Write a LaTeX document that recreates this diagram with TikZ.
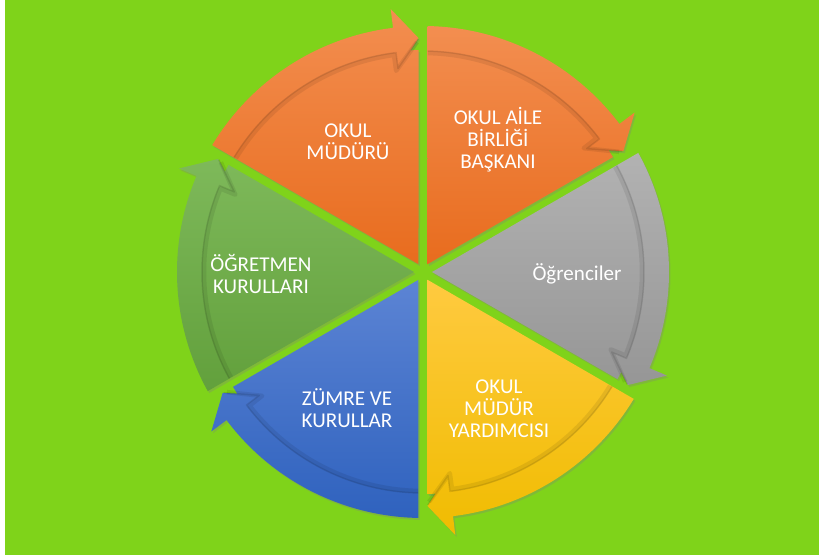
\documentclass[tikz,border=0pt]{standalone}
\usepackage{fontspec}
\setmainfont{Carlito}
\usepackage{tikz}
\usetikzlibrary{shadows}

\definecolor{bggreen}{RGB}{127,211,26}
\definecolor{orangetop}{RGB}{243,142,80}
\definecolor{orangebot}{RGB}{232,108,30}
\definecolor{graytop}{RGB}{178,178,178}
\definecolor{graybot}{RGB}{150,150,150}
\definecolor{goldtop}{RGB}{255,202,64}
\definecolor{goldbot}{RGB}{240,188,0}
\definecolor{bluetop}{RGB}{92,132,212}
\definecolor{bluebot}{RGB}{47,98,190}
\definecolor{greentop}{RGB}{126,185,90}
\definecolor{greenbot}{RGB}{98,160,60}

\tikzset{
  seglabel/.style={text=white, align=center, font=\fontsize{12}{12.6}\selectfont},
  segshadow/.style={drop shadow={opacity=0.3, shadow xshift=0.03cm, shadow yshift=-0.04cm}},
  bandedge/.style={black, opacity=0.08, line width=0.09cm, line join=round},
  bandline/.style={black, opacity=0.1, line width=0.03cm, line join=round}
}

\begin{document}
\begin{tikzpicture}[x=0.02cm, y=0.02cm]
\fill[white] (-423,-286) rectangle (396,272);
\fill[bggreen] (-418,-283) rectangle (396,272);
\useasboundingbox (-423,-286) rectangle (396,272);

% one wedge with its arrow band per role, clockwise from upper left
\foreach \a/\ctop/\cbot in {150/orangetop/orangebot, 90/orangetop/orangebot,
    30/graytop/graybot, -30/goldtop/goldbot, -90/bluetop/bluebot, -150/greentop/greenbot}{
  \pgfmathsetmacro{\b}{\a-60}
  \pgfmathsetmacro{\h}{\b+7}
  \shade[segshadow, top color=\ctop, bottom color=\cbot]
    (\a-30:9) -- (\a-1.05:246) arc[start angle=\a-1.05, end angle=\h, radius=246]
    -- (\h:222) arc[start angle=\h, end angle=\b+1.16, radius=222] -- cycle
    (\h:265) -- (\b+1.1:234) -- (\h:204) -- cycle;
  \draw[bandedge] (\a-1.3:219) arc[start angle=\a-1.3, end angle=\h+0.6, radius=219]
    -- (\h+0.6:203) -- (\b+1.5:230);
  \draw[bandline] (\a-1.2:221) arc[start angle=\a-1.2, end angle=\h, radius=221]
    -- (\h:205) -- (\b+1.2:233);
}

\node[seglabel] (mudur) at (-75,130) {OKUL\\MÜDÜRÜ};
\node[seglabel] (aile) at (75,132) {OKUL AİLE\\BİRLİĞİ\\BAŞKANI};
\node[seglabel] (ogrenci) at (154,-2) {Öğrenciler};
\node[seglabel] (yardimci) at (76,-137) {OKUL\\MÜDÜR\\YARDIMCISI};
\node[seglabel] (zumre) at (-76,-136) {ZÜMRE VE\\KURULLAR};
\node[seglabel] (ogretmen) at (-162,-2) {ÖĞRETMEN\\KURULLARI};
\end{tikzpicture}
\end{document}
